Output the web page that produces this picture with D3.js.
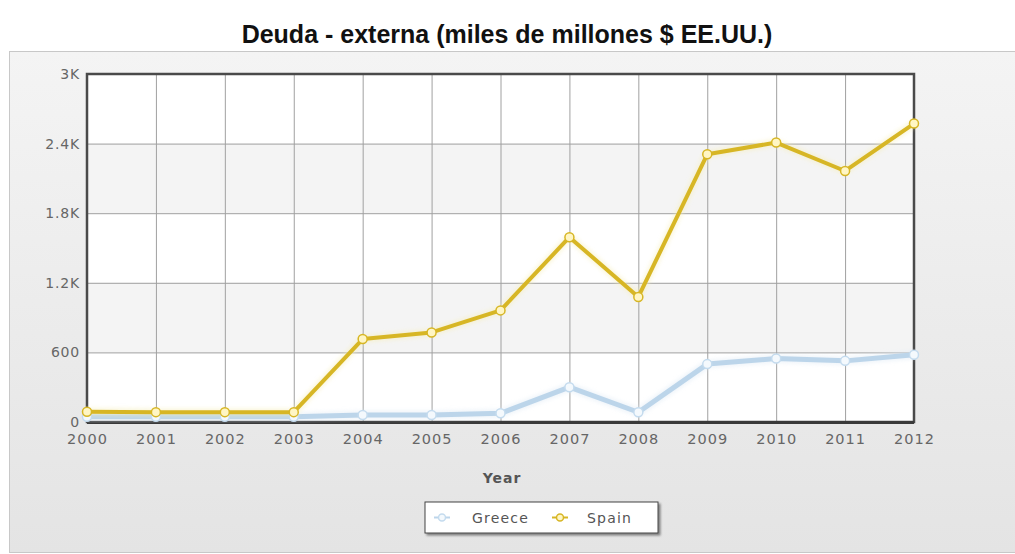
<!DOCTYPE html>
<html>
<head>
<meta charset="utf-8">
<script src="https://cdn.jsdelivr.net/npm/d3@7/dist/d3.min.js"></script>
<style>
  html, body { margin: 0; padding: 0; background: #ffffff; }
  svg { display: block; }
</style>
</head>
<body>
<svg id="chart" width="1015" height="554"></svg>
<script>
// External debt, billions of US dollars
const years = [2000, 2001, 2002, 2003, 2004, 2005, 2006, 2007, 2008, 2009, 2010, 2011, 2012];
const greece = [45, 45, 45, 45, 60, 60, 75, 300, 84, 499, 547, 527, 579];
const spain = [89, 85, 85, 85, 715, 772, 962, 1593, 1078, 2308, 2409, 2164, 2573];
const yTicks = [0, 600, 1200, 1800, 2400, 3000];
const yTickLabels = ["0", "600", "1.2K", "1.8K", "2.4K", "3K"];
const seriesNames = ["Greece", "Spain"];

const svg = d3.select("#chart");
const W = 1015, H = 554;
const plot = { left: 87, top: 74, right: 914, bottom: 422 };

const defs = svg.append("defs");
const bg = defs.append("linearGradient").attr("id", "panelGrad")
  .attr("x1", 0).attr("y1", 0).attr("x2", 0).attr("y2", 1);
bg.append("stop").attr("offset", "0%").attr("stop-color", "#f4f4f4");
bg.append("stop").attr("offset", "100%").attr("stop-color", "#e4e4e4");

const glow = defs.append("filter").attr("id", "glow")
  .attr("x", "-10%").attr("y", "-10%").attr("width", "120%").attr("height", "120%");
glow.append("feGaussianBlur").attr("in", "SourceGraphic").attr("stdDeviation", 2);

const legShadow = defs.append("filter").attr("id", "legShadow")
  .attr("x", "-10%").attr("y", "-30%").attr("width", "130%").attr("height", "180%");
legShadow.append("feDropShadow").attr("dx", 2).attr("dy", 2).attr("stdDeviation", 1.2)
  .attr("flood-color", "#000").attr("flood-opacity", 0.45);

// Title
svg.append("text")
  .attr("x", 507).attr("y", 43)
  .attr("text-anchor", "middle")
  .attr("font-family", "'Liberation Sans', Arial, sans-serif")
  .attr("font-weight", "bold")
  .attr("font-size", 25)
  .attr("fill", "#111")
  .text("Deuda - externa (miles de millones $ EE.UU.)");

// Outer panel
svg.append("rect")
  .attr("x", 9.5).attr("y", 51.5).attr("width", W).attr("height", 501)
  .attr("fill", "url(#panelGrad)")
  .attr("stroke", "#c8c8c8").attr("stroke-width", 1);

const x = d3.scaleLinear().domain([years[0], years[years.length - 1]]).range([plot.left, plot.right]);
const y = d3.scaleLinear().domain([0, 3000]).range([plot.bottom, plot.top]);

// Plot background with alternating bands
const bands = d3.pairs(yTicks);
svg.append("g").selectAll("rect").data(bands).join("rect")
  .attr("x", plot.left).attr("width", plot.right - plot.left)
  .attr("y", d => y(d[1])).attr("height", d => y(d[0]) - y(d[1]))
  .attr("fill", (d, i) => (i % 2 === 1 ? "#f4f4f4" : "#ffffff"));

// Grid lines
const gridY = svg.append("g").attr("transform", `translate(${plot.left},0)`)
  .call(d3.axisLeft(y).tickValues(yTicks).tickSize(-(plot.right - plot.left)).tickFormat(""));
gridY.select(".domain").remove();
gridY.selectAll("line").attr("stroke", "#a0a0a0").attr("stroke-width", 1);

const gridX = svg.append("g").attr("transform", `translate(0,${plot.bottom})`)
  .call(d3.axisBottom(x).tickValues(years).tickSize(-(plot.bottom - plot.top)).tickFormat(""));
gridX.select(".domain").remove();
gridX.selectAll("line").attr("stroke", "#a0a0a0").attr("stroke-width", 1);

// Plot frame
svg.append("rect")
  .attr("x", plot.left).attr("y", plot.top)
  .attr("width", plot.right - plot.left).attr("height", plot.bottom - plot.top)
  .attr("fill", "none").attr("stroke", "#4a4a4a").attr("stroke-width", 2.5);
svg.append("line")
  .attr("x1", plot.left).attr("x2", plot.right)
  .attr("y1", plot.bottom + 0.5).attr("y2", plot.bottom + 0.5)
  .attr("stroke", "#3a3a3a").attr("stroke-width", 3);

// Axis labels
const tickFont = "'DejaVu Sans', Verdana, sans-serif";
const yAxis = svg.append("g").attr("transform", `translate(${plot.left},0)`)
  .call(d3.axisLeft(y).tickValues(yTicks).tickSize(0).tickPadding(7)
    .tickFormat((d, i) => yTickLabels[i]));
yAxis.select(".domain").remove();
yAxis.selectAll("text")
  .attr("font-family", tickFont).attr("font-size", 14).attr("fill", "#666")
  .attr("letter-spacing", 0.8);

const xAxis = svg.append("g").attr("transform", `translate(0,${plot.bottom})`)
  .call(d3.axisBottom(x).tickValues(years).tickSize(0).tickPadding(12).tickFormat(d3.format("d")));
xAxis.select(".domain").remove();
xAxis.selectAll("text")
  .attr("font-family", tickFont).attr("font-size", 14.5).attr("fill", "#666")
  .attr("letter-spacing", 1);

svg.append("text")
  .attr("x", 502).attr("y", 483)
  .attr("text-anchor", "middle")
  .attr("font-family", tickFont).attr("font-weight", "bold")
  .attr("font-size", 14).attr("fill", "#555").attr("letter-spacing", 1)
  .text("Year");

// Series
const series = [
  { name: seriesNames[0], values: greece, line: "#bcd5ea", halo: "#dfeaf5", dot: "#f4f9fd", dotStroke: "#c4dbee", width: 5 },
  { name: seriesNames[1], values: spain, line: "#d7b625", halo: "#f6eeb8", dot: "#fff6c4", dotStroke: "#d7b625", width: 4 }
];

const lineGen = d3.line().x((d, i) => x(years[i])).y(d => y(d));

series.forEach(s => {
  svg.append("path").datum(s.values)
    .attr("d", lineGen).attr("fill", "none")
    .attr("stroke", s.halo).attr("stroke-width", s.width + 3)
    .attr("stroke-linejoin", "round").attr("opacity", 0.55)
    .attr("filter", "url(#glow)");
  svg.append("path").datum(s.values)
    .attr("d", lineGen).attr("fill", "none")
    .attr("stroke", s.line).attr("stroke-width", s.width)
    .attr("stroke-linejoin", "round");
});

series.forEach(s => {
  svg.append("g").selectAll("circle").data(s.values).join("circle")
    .attr("cx", (d, i) => x(years[i])).attr("cy", d => y(d))
    .attr("r", 4.5)
    .attr("fill", s.dot).attr("stroke", s.dotStroke).attr("stroke-width", 1.5);
});

// Legend
const legend = svg.append("g").attr("transform", "translate(425,502)");
legend.append("rect")
  .attr("width", 233).attr("height", 31)
  .attr("fill", "#ffffff").attr("stroke", "#444").attr("stroke-width", 1)
  .attr("filter", "url(#legShadow)");
const legItems = [
  { s: series[0], mx: 17, tx: 47 },
  { s: series[1], mx: 135, tx: 162 }
];
legItems.forEach(it => {
  legend.append("line")
    .attr("x1", it.mx - 8).attr("x2", it.mx + 8).attr("y1", 15.5).attr("y2", 15.5)
    .attr("stroke", it.s.line).attr("stroke-width", 2);
  legend.append("circle")
    .attr("cx", it.mx).attr("cy", 15.5).attr("r", 3.5)
    .attr("fill", it.s.dot).attr("stroke", it.s.dotStroke).attr("stroke-width", 1.5);
  legend.append("text")
    .attr("x", it.tx).attr("y", 20.5)
    .attr("font-family", tickFont).attr("font-size", 14).attr("fill", "#555")
    .attr("letter-spacing", 1.2)
    .text(it.s.name);
});
</script>
</body>
</html>
